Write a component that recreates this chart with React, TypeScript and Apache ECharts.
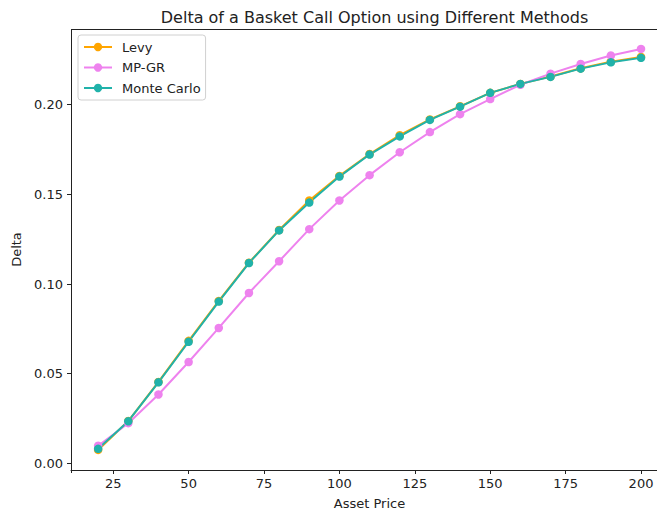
import React, { useEffect, useRef } from "react";
import * as echarts from "echarts";

const assetPrices = [20, 30, 40, 50, 60, 70, 80, 90, 100, 110, 120, 130, 140, 150, 160, 170, 180, 190, 200];
const levyDelta = [0.0075, 0.0236, 0.0454, 0.0683, 0.0906, 0.1119, 0.1301, 0.1466, 0.1603, 0.1725, 0.1830, 0.1918, 0.1991, 0.2066, 0.2116, 0.2157, 0.2203, 0.2240, 0.2266];
const mpgrDelta = [0.0098, 0.0224, 0.0384, 0.0565, 0.0755, 0.0950, 0.1127, 0.1306, 0.1466, 0.1607, 0.1735, 0.1847, 0.1947, 0.2031, 0.2111, 0.2173, 0.2227, 0.2274, 0.2311];
const monteCarloDelta = [0.0081, 0.0235, 0.0452, 0.0678, 0.0902, 0.1117, 0.1299, 0.1454, 0.1599, 0.1722, 0.1823, 0.1915, 0.1989, 0.2066, 0.2116, 0.2155, 0.2201, 0.2236, 0.2261];
const xTicks = [25, 50, 75, 100, 125, 150, 175, 200];
const yTicks = [0, 0.05, 0.1, 0.15, 0.2];

const FONT = "DejaVu Sans";
const INK = "#222";

export default function App() {
  const ref = useRef<HTMLDivElement>(null);
  useEffect(() => {
    document.body.style.margin = "0";
    const chart = echarts.init(ref.current!, null, { renderer: "svg" });
    const mk = (name: string, color: string, vals: number[]) => ({
      name,
      type: "line",
      data: assetPrices.map((x, i) => [x, vals[i]]),
      symbol: "circle",
      symbolSize: 8.5,
      lineStyle: { color, width: 2 },
      itemStyle: { color },
      emphasis: { disabled: true },
    });
    // the plotted x range runs past the right edge of the picture (the axes are cropped there)
    const xMin = 11;
    const xMax = 205.3;
    const gl = 71;
    const gt = 29;
    const gb = 42;
    chart.setOption({
      animation: false,
      textStyle: { fontFamily: FONT },
      title: {
        text: "Delta of a Basket Call Option using Different Methods",
        left: 369.5,
        textAlign: "center",
        top: 4,
        textStyle: { fontFamily: FONT, fontSize: 16, fontWeight: "normal", color: INK },
      },
      legend: {
        left: 78,
        top: 35,
        orient: "vertical",
        padding: 5,
        itemWidth: 28,
        itemHeight: 10.5,
        itemGap: 6.5,
        borderColor: "#d0d0d0",
        borderWidth: 1,
        borderRadius: 3,
        backgroundColor: "rgba(255,255,255,0.8)",
        textStyle: { fontFamily: FONT, fontSize: 13, color: INK, lineHeight: 14, padding: [0, 0, 0, 5] },
        data: ["Levy", "MP-GR", "Monte Carlo"],
      },
      grid: {
        left: gl,
        top: gt,
        right: 0,
        bottom: gb,
        show: false,
      },
      graphic: [
        // left and top spines of the axes box
        { type: "line", z: 1, silent: true, shape: { x1: gl + 0.5, y1: gt + 0.5, x2: gl + 0.5, y2: 515 - gb }, style: { stroke: INK, lineWidth: 1 } },
        { type: "line", z: 1, silent: true, shape: { x1: gl, y1: gt + 0.5, x2: 657, y2: gt + 0.5 }, style: { stroke: INK, lineWidth: 1 } },
      ],
      xAxis: {
        type: "value",
        min: xMin,
        max: xMax,
        position: "bottom",
        name: "Asset Price",
        nameLocation: "middle",
        nameGap: 27,
        nameTextStyle: { fontFamily: FONT, fontSize: 13, color: INK, padding: [0, 0, 0, 11] },
        axisLine: { show: true, onZero: false, lineStyle: { color: INK, width: 1 } },
        splitLine: { show: false },
        axisTick: { show: true, length: 4, customValues: xTicks, lineStyle: { color: INK } },
        axisLabel: { customValues: xTicks, margin: 7, fontFamily: FONT, fontSize: 13, color: INK },
      },
      yAxis: {
        type: "value",
        min: -0.0037,
        max: 0.2422,
        name: "Delta",
        nameLocation: "middle",
        nameGap: 46,
        nameTextStyle: { fontFamily: FONT, fontSize: 13, color: INK },
        axisLine: { show: false },
        splitLine: { show: false },
        axisTick: { show: true, length: 4, customValues: yTicks, lineStyle: { color: INK } },
        axisLabel: {
          customValues: yTicks,
          margin: 8,
          fontFamily: FONT,
          fontSize: 13,
          color: INK,
          formatter: (v: number) => v.toFixed(2),
        },
      },
      series: [
        mk("Levy", "#FFA500", levyDelta),
        mk("MP-GR", "#EE82EE", mpgrDelta),
        mk("Monte Carlo", "#20B2AA", monteCarloDelta),
      ],
    });
    return () => chart.dispose();
  }, []);
  return <div ref={ref} style={{ width: 657, height: 515 }} />;
}
